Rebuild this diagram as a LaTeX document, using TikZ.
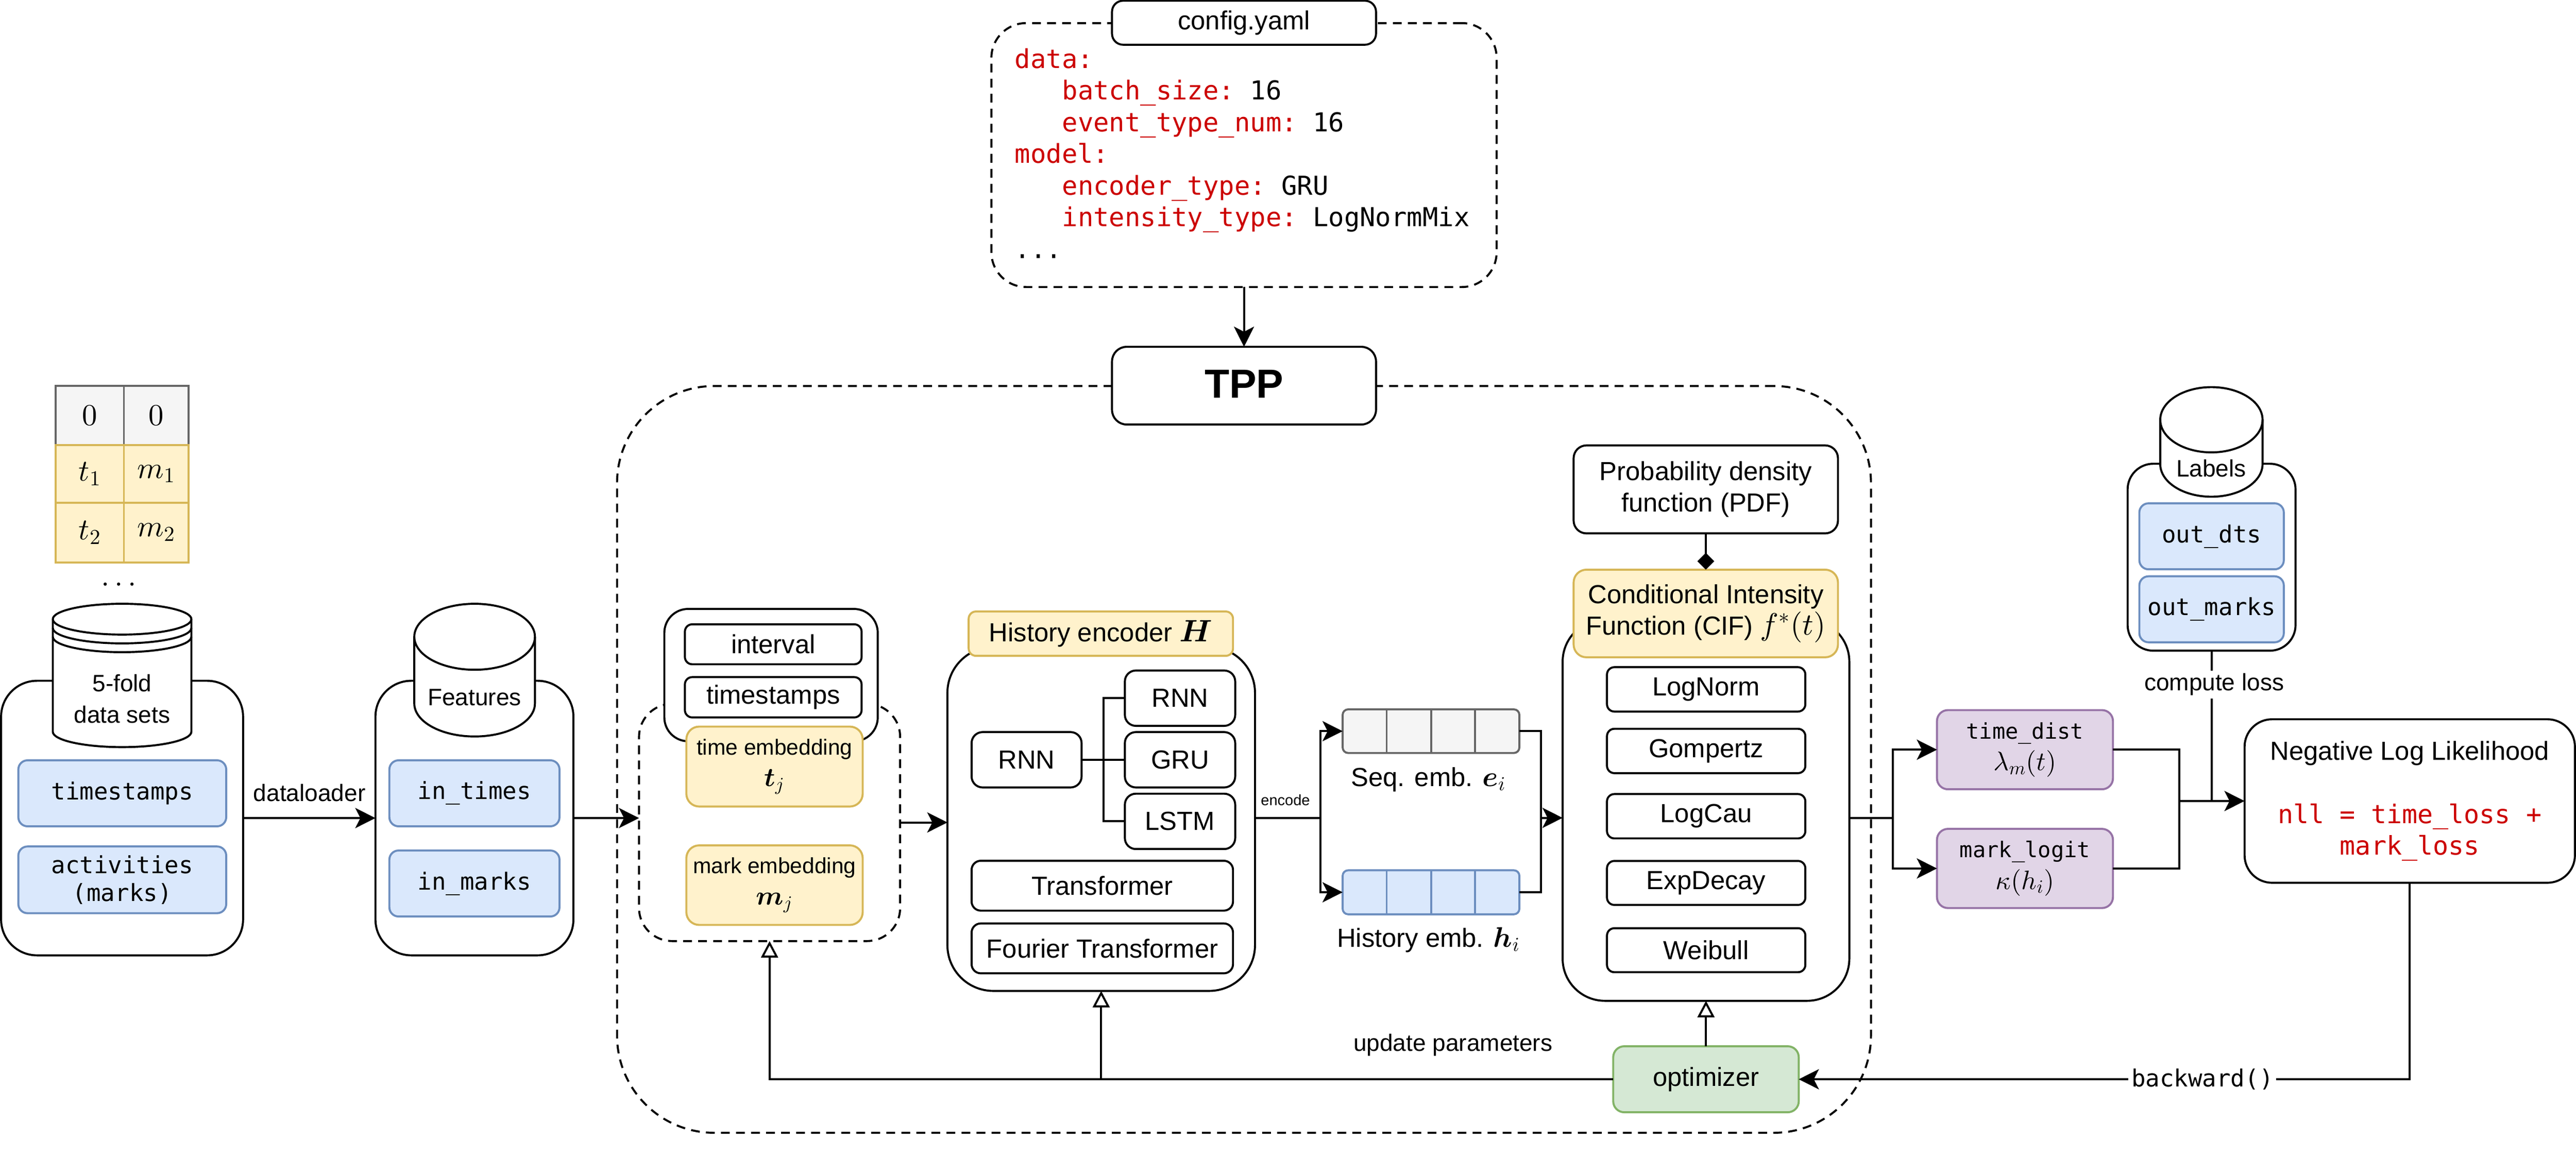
\documentclass[tikz,border=0pt]{standalone}
\usepackage{amsmath}
\usepackage[no-math]{fontspec}
\setmainfont{Liberation Sans}
\setmonofont{DejaVu Sans Mono}
\usetikzlibrary{arrows.meta}
\DeclareFontShape{OT1}{cmr}{m}{n}{<->cmr10}{}
\DeclareFontShape{OML}{cmm}{m}{it}{<->cmmi10}{}
\DeclareFontShape{OML}{cmm}{b}{it}{<->cmmib10}{}
\DeclareFontShape{OMS}{cmsy}{m}{n}{<->cmsy10}{}
\definecolor{blueFill}{HTML}{DAE8FC}
\definecolor{blueLine}{HTML}{6C8EBF}
\definecolor{yellowFill}{HTML}{FFF2CC}
\definecolor{yellowLine}{HTML}{D6B656}
\definecolor{grayFill}{HTML}{F5F5F5}
\definecolor{grayLine}{HTML}{666666}
\definecolor{greenFill}{HTML}{D5E8D4}
\definecolor{greenLine}{HTML}{82B366}
\definecolor{purpleFill}{HTML}{E1D5E7}
\definecolor{purpleLine}{HTML}{9673A6}
\definecolor{codeRed}{HTML}{CC0000}
\newcommand{\fsmall}{\fontsize{18.4}{24.5}\selectfont}
\newcommand{\fbig}{\fontsize{20.3}{24.5}\selectfont}
\newcommand{\fcode}{\fontsize{18.3}{21.5}\selectfont\ttfamily}
\newcommand{\mathlabel}[2][20.7]{{\fontsize{#1}{24.5}\selectfont$#2$}}
\tikzset{
    size/.style 2 args={minimum width=#1cm,minimum height=#2cm},
    plain/.style={draw=black,fill=white,rectangle,line width=0.055cm,inner sep=0pt,outer sep=0pt,align=center,font=\fbig},
    dashbox/.style={plain,dash pattern=on 0.24cm off 0.17cm},
    bluebox/.style={plain,draw=blueLine,fill=blueFill,rounded corners=0.25cm,font=\fcode},
    yellowbox/.style={plain,draw=yellowLine,fill=yellowFill},
    purplebox/.style={plain,draw=purpleLine,fill=purpleFill,rounded corners=0.3cm,font=\fontsize{16.8}{24.5}\selectfont\ttfamily},
    cell/.style={plain,font=\fontsize{23.5}{26}\selectfont},
    label/.style={inner sep=0pt,outer sep=0pt,align=center,font=\fbig},
    conn/.style={line width=0.055cm},
    arr/.style={conn,-{Stealth[length=0.55cm,width=0.55cm,inset=0.14cm]}},
    hollow/.style={conn,-{Triangle[open,fill=white,length=0.45cm,width=0.46cm]}},
    dbline/.style={line width=0.055cm,fill=white},
}
\begin{document}
\begin{tikzpicture}
    \useasboundingbox (0,0) rectangle (70.26,-31.56);

    \node[dashbox,rounded corners=2.65cm,size={34.2}{20.37}] (tpp) at (33.93,-20.715) {};
    \node[plain,rounded corners=0.4cm,size={7.2}{2.12},text depth=0.1cm,font=\fontsize{31.5}{36}\selectfont\bfseries] (tppTitle) at (33.93,-10.52) {TPP};

    \node[dashbox,rounded corners=0.95cm,size={13.78}{7.2}] (config) at (33.93,-4.23) {};
    \node[plain,rounded corners=0.3cm,size={7.2}{1.2}] (configTitle) at (33.93,-0.62) {config.yaml};
    \node[label,anchor=north west,align=left,font=\fontsize{20.2}{24.6}\selectfont\ttfamily] (yaml) at (27.68,-1.32) {\textcolor{codeRed}{data:}\\
        \hspace*{1.29cm}\textcolor{codeRed}{batch\_size:} 16\\
        \hspace*{1.29cm}\textcolor{codeRed}{event\_type\_num:} 16\\
        \textcolor{codeRed}{model:}\\
        \hspace*{1.29cm}\textcolor{codeRed}{encoder\_type:} GRU\\
        \hspace*{1.29cm}\textcolor{codeRed}{intensity\_type:} LogNormMix\\
        ...};

    \node[cell,draw=grayLine,fill=grayFill,size={1.86}{1.62}] (zeroT) at (2.45,-11.33) {$0$};
    \node[cell,draw=grayLine,fill=grayFill,size={1.76}{1.62}] (zeroM) at (4.26,-11.33) {$0$};
    \node[cell,draw=yellowLine,fill=yellowFill,size={1.86}{1.57}] (timeOne) at (2.45,-12.925) {$t_1$};
    \node[cell,draw=yellowLine,fill=yellowFill,size={1.76}{1.57}] (markOne) at (4.26,-12.925) {$m_1$};
    \node[cell,draw=yellowLine,fill=yellowFill,size={1.86}{1.63}] (timeTwo) at (2.45,-14.525) {$t_2$};
    \node[cell,draw=yellowLine,fill=yellowFill,size={1.76}{1.63}] (markTwo) at (4.26,-14.525) {$m_2$};
    \node[label,anchor=base,font=\fontsize{23.5}{26}\selectfont] (moreRows) at (3.31,-15.98) {$\dots$};

    \node[plain,rounded corners=0.98cm,size={6.6}{7.49}] (dataBox) at (3.33,-22.315) {};
    \draw[dbline] (1.44,-16.89) -- (1.44,-19.96) arc[start angle=180,end angle=360,x radius=1.89,y radius=0.42] -- (5.22,-16.89) arc[start angle=0,end angle=180,x radius=1.89,y radius=0.42] -- cycle;
    \foreach \dy in {0,0.24,0.48} {
        \draw[conn] (1.44,-16.89-\dy) arc[start angle=180,end angle=360,x radius=1.89,y radius=0.42];
    }
    \node[label,font=\fsmall] (dataLabel) at (3.33,-19.06) {5-fold\\data sets};
    \node[bluebox,size={5.67}{1.8}] (stamps) at (3.335,-21.64) {timestamps};
    \node[bluebox,size={5.67}{1.82}] (activities) at (3.335,-24.0) {activities\\(marks)};

    \node[plain,rounded corners=0.98cm,size={5.4}{7.49}] (featBox) at (12.94,-22.315) {};
    \draw[dbline] (11.3,-17.37) -- (11.3,-19.19) arc[start angle=180,end angle=360,x radius=1.645,y radius=0.9] -- (14.59,-17.37) arc[start angle=0,end angle=180,x radius=1.645,y radius=0.9] -- cycle;
    \draw[conn] (11.3,-17.37) arc[start angle=180,end angle=360,x radius=1.645,y radius=0.9];
    \node[label,font=\fsmall] (featLabel) at (12.94,-19.03) {Features};
    \node[bluebox,size={4.64}{1.8}] (inTimes) at (12.94,-21.64) {in\_times};
    \node[bluebox,size={4.64}{1.8}] (inMarks) at (12.94,-24.1) {in\_marks};

    \node[dashbox,rounded corners=0.9cm,size={7.12}{6.47}] (embed) at (20.99,-22.435) {};
    \node[plain,rounded corners=0.65cm,size={5.82}{3.61}] (inputBox) at (21.03,-18.415) {};
    \node[plain,rounded corners=0.2cm,size={4.82}{1.09}] (interval) at (21.09,-17.575) {interval};
    \node[plain,rounded corners=0.2cm,size={4.82}{1.1}] (stampsTwo) at (21.09,-19.02) {timestamps};
    \node[yellowbox,rounded corners=0.35cm,size={4.81}{2.18},font=\fontsize{17}{24.5}\selectfont] (timeEmb) at (21.125,-20.91) {time embedding\\\mathlabel{\boldsymbol{t}_j}};
    \node[yellowbox,rounded corners=0.35cm,size={4.81}{2.17},font=\fontsize{17}{24.5}\selectfont] (markEmb) at (21.125,-24.145) {mark embedding\\\mathlabel{\boldsymbol{m}_j}};

    \node[plain,rounded corners=1.25cm,size={8.39}{9.38}] (encoder) at (30.035,-22.34) {};
    \node[yellowbox,rounded corners=0.2cm,size={7.21}{1.21}] (encoderTitle) at (30.025,-17.285) {History encoder \mathlabel[24]{\boldsymbol{H}}};
    \node[plain,rounded corners=0.3cm,size={3}{1.51}] (rnnLeft) at (28,-20.725) {RNN};
    \node[plain,rounded corners=0.3cm,size={3.01}{1.51}] (rnnBox) at (32.185,-19.045) {RNN};
    \node[plain,rounded corners=0.3cm,size={3.01}{1.51}] (gruBox) at (32.185,-20.725) {GRU};
    \node[plain,rounded corners=0.3cm,size={3.01}{1.51}] (lstmBox) at (32.185,-22.405) {LSTM};
    \node[plain,rounded corners=0.25cm,size={7.13}{1.36}] (transformer) at (30.065,-24.16) {Transformer};
    \node[plain,rounded corners=0.25cm,size={7.13}{1.36}] (fourier) at (30.065,-25.87) {Fourier Transformer};
    \coordinate (rnnBus) at (30.1,-20.725);
    \draw[conn] (rnnLeft) -- (gruBox);
    \draw[conn] (rnnBox.west) -| (rnnBus) |- (lstmBox.west);

    \node[plain,draw=grayLine,fill=grayFill,rounded corners=0.15cm,size={4.82}{1.19}] (seqEmb) at (39.03,-19.945) {};
    \node[plain,draw=blueLine,fill=blueFill,rounded corners=0.15cm,size={4.82}{1.2}] (histEmb) at (39.03,-24.34) {};
    \foreach \dx in {-1.21,0,1.2} {
        \draw[conn,grayLine] ([xshift=\dx cm]seqEmb.north) -- ([xshift=\dx cm]seqEmb.south);
        \draw[conn,blueLine] ([xshift=\dx cm]histEmb.north) -- ([xshift=\dx cm]histEmb.south);
    }
    \node[label] (seqLabel) at (38.96,-21.26) {Seq. emb. \mathlabel[22]{\boldsymbol{e}_i}};
    \node[label] (histLabel) at (38.96,-25.64) {History emb. \mathlabel[22]{\boldsymbol{h}_i}};
    \node[label,font=\fontsize{11.6}{14}\selectfont] (encodeLabel) at (35.06,-21.82) {encode};

    \node[plain,rounded corners=1.15cm,size={7.82}{10.4}] (cif) at (46.53,-22.1) {};
    \node[plain,rounded corners=0.35cm,size={7.21}{2.4}] (pdf) at (46.525,-13.35) {Probability density\\function (PDF)};
    \node[yellowbox,rounded corners=0.35cm,size={7.21}{2.39}] (cifTitle) at (46.525,-16.735) {Conditional Intensity\\Function (CIF) \mathlabel[24]{f^{*}(t)}};
    \node[plain,rounded corners=0.2cm,size={5.41}{1.21}] (logNorm) at (46.535,-18.805) {LogNorm};
    \node[plain,rounded corners=0.2cm,size={5.41}{1.21}] (gompertz) at (46.535,-20.485) {Gompertz};
    \node[plain,rounded corners=0.2cm,size={5.41}{1.21}] (logCau) at (46.535,-22.265) {LogCau};
    \node[plain,rounded corners=0.2cm,size={5.41}{1.2}] (expDecay) at (46.535,-24.085) {ExpDecay};
    \node[plain,rounded corners=0.2cm,size={5.41}{1.2}] (weibull) at (46.535,-25.92) {Weibull};

    \node[plain,draw=greenLine,fill=greenFill,rounded corners=0.3cm,size={5.06}{1.8}] (optimizer) at (46.53,-29.44) {optimizer};
    \node[label,font=\fsmall] (updateLabel) at (39.63,-28.51) {update parameters};

    \node[purplebox,size={4.8}{2.16}] (timeDist) at (55.23,-20.45) {time\_dist\\\mathlabel{\lambda_m(t)}};
    \node[purplebox,size={4.8}{2.16}] (markLogit) at (55.23,-23.69) {mark\_logit\\\mathlabel{\kappa(h_i)}};

    \node[plain,rounded corners=0.7cm,size={4.58}{5.1}] (labelBox) at (60.32,-15.2) {};
    \draw[dbline] (58.92,-11.45) -- (58.92,-12.66) arc[start angle=180,end angle=360,x radius=1.395,y radius=0.89] -- (61.71,-11.45) arc[start angle=0,end angle=180,x radius=1.395,y radius=0.89] -- cycle;
    \draw[conn] (58.92,-11.45) arc[start angle=180,end angle=360,x radius=1.395,y radius=0.89];
    \node[label,font=\fsmall] (labelsTitle) at (60.31,-12.78) {Labels};
    \node[bluebox,size={3.94}{1.8}] (outDts) at (60.32,-14.63) {out\_dts};
    \node[bluebox,size={3.94}{1.8}] (outMarks) at (60.32,-16.62) {out\_marks};

    \node[plain,rounded corners=0.75cm,size={9.01}{4.46}] (nll) at (65.725,-21.85) {Negative Log Likelihood\\[24.5pt]{\fontsize{20}{24}\selectfont\ttfamily\color{codeRed}nll = time\_loss +}\\{\fontsize{20}{24}\selectfont\ttfamily\color{codeRed}mark\_loss}};

    \coordinate (encBus) at (36.02,-22.31);
    \coordinate (cifBus) at (42.03,-22.31);
    \coordinate (outBus) at (51.62,-22.32);
    \coordinate (lossBus) at (59.44,-21.85);

    \draw[arr] (config.south) -- (tppTitle.north);
    \draw[arr] (dataBox) -- (featBox);
    \node[label,font=\fsmall] (loaderLabel) at (8.44,-21.63) {dataloader};
    \draw[arr] (featBox.east) -- (featBox.east -| embed.west);
    \draw[arr] (embed.east) -- (embed.east -| encoder.west);
    \draw[conn] (encoder.east |- encBus) -- (encBus);
    \draw[arr] (encBus) |- (seqEmb.west);
    \draw[arr] (encBus) |- (histEmb.west);
    \draw[conn] (seqEmb.east) -| (cifBus) |- (histEmb.east);
    \draw[arr] (cifBus) -- (cifBus -| cif.west);
    \draw[-{Diamond[length=0.46cm,width=0.46cm]},conn] (pdf.south) -- (cifTitle.north);
    \draw[conn] (cif.east |- outBus) -- (outBus);
    \draw[arr] (outBus) |- (timeDist.west);
    \draw[arr] (outBus) |- (markLogit.west);
    \draw[conn] (timeDist.east) -| (lossBus) |- (markLogit.east);
    \draw[arr] (lossBus) -- (nll.west);
    \draw[conn] (labelBox.south) -- (labelBox.south |- lossBus);
    \node[label,fill=white,inner ysep=0.08cm,font=\fsmall] (lossLabel) at (60.39,-18.67) {compute loss};
    \draw[arr] (nll.south) |- (optimizer.east);
    \node[label,fill=white,inner xsep=0.08cm,font=\fcode] (backLabel) at (60.07,-29.44) {backward()};
    \draw[hollow] (optimizer.west) -| (embed.south);
    \draw[hollow] (encoder.south |- optimizer.west) -- (encoder.south);
    \draw[hollow] (optimizer.north) -- (cif.south);
\end{tikzpicture}
\end{document}
